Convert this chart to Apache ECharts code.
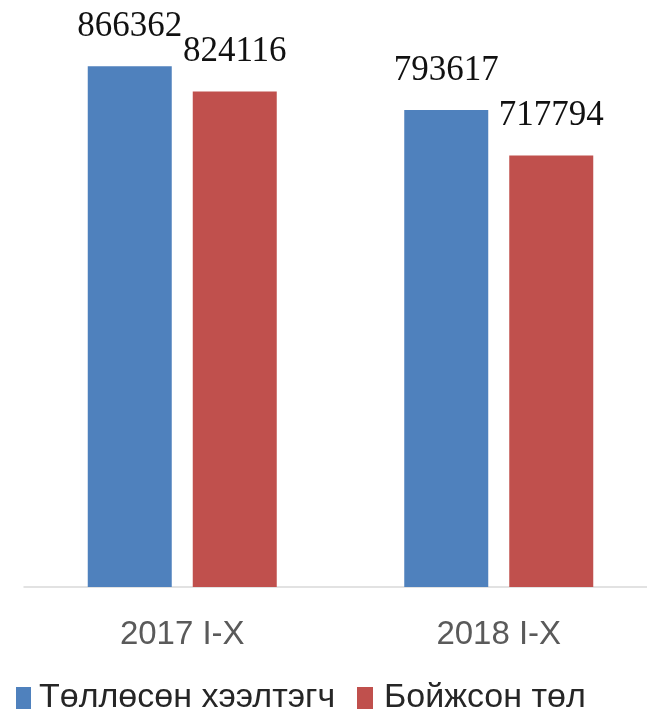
<!DOCTYPE html>
<html>
<head>
<meta charset="utf-8">
<script src="https://cdn.jsdelivr.net/npm/echarts@6/dist/echarts.min.js"></script>
<style>html,body{margin:0;padding:0;background:#fff;overflow:hidden}#c{width:657px;height:721px}</style>
</head>
<body>
<div id="c"></div>
<script>
var categories = ['2017 I-X', '2018 I-X'];
var seriesNames = ['Төллөсөн хээлтэгч', 'Бойжсон төл'];
var ewes = [866362, 793617];
var young = [824116, 717794];

var chart = echarts.init(document.getElementById('c'), null, {renderer: 'canvas'});
var labelStyle = {
  show: true, position: 'top', distance: 22,
  fontFamily: 'Liberation Serif', fontSize: 35, lineHeight: 35, color: '#111'
};
function legendText(pad) {
  return {fontFamily: 'Liberation Sans', fontSize: 34, lineHeight: 34, color: '#262626', padding: [0,0,0,pad]};
}
chart.setOption({
  backgroundColor: '#fff',
  animation: false,
  grid: {left: 24, right: 0, top: 46, bottom: 134},
  xAxis: {
    type: 'category', data: categories,
    axisLine: {lineStyle: {color: '#d9d9d9', width: 1.5}},
    axisTick: {show: false},
    axisLabel: {fontFamily: 'Liberation Sans', fontSize: 33, lineHeight: 33, color: '#5a5a5a', margin: 31}
  },
  yAxis: {type: 'value', min: 0, max: 900000, show: false, splitLine: {show: false}},
  legend: [
    {data: [seriesNames[0]], left: 16, top: 681, padding: 0, itemWidth: 15, itemHeight: 22, icon: 'rect', textStyle: legendText(3)},
    {data: [seriesNames[1]], left: 357, top: 681, padding: 0, itemWidth: 16, itemHeight: 22, icon: 'rect', textStyle: legendText(6)}
  ],
  series: [
    {name: seriesNames[0], type: 'bar', data: ewes, barWidth: 84, barGap: '25%', itemStyle: {color: '#4f81bd'}, label: labelStyle},
    {name: seriesNames[1], type: 'bar', data: young, barWidth: 84, barGap: '25%', itemStyle: {color: '#c0504d'}, label: labelStyle}
  ]
});
</script>
</body>
</html>
